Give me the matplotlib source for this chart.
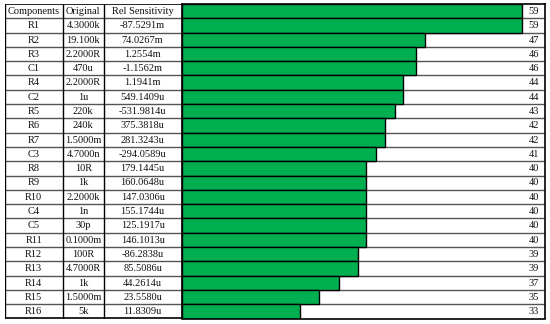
import matplotlib

matplotlib.use("Agg")
import matplotlib.pyplot as plt  # noqa: E402

components = ["R1", "R2", "R3", "C1", "R4", "C2", "R5", "R6", "R7", "C3", "R8",
              "R9", "R10", "C4", "C5", "R11", "R12", "R13", "R14", "R15", "R16"]
original = ["4.3000k", "19.100k", "2.2000R", "470u", "2.2000R", "1u", "220k", "240k",
            "1.5000m", "4.7000n", "10R", "1k", "2.2000k", "1n", "30p", "0.1000m",
            "100R", "4.7000R", "1k", "1.5000m", "5k"]
rel_sens = ["-87.5291m", "74.0267m", "1.2554m", "-1.1562m", "1.1941m", "549.1409u",
            "-531.9814u", "375.3818u", "281.3243u", "-294.0589u", "179.1445u",
            "160.0648u", "147.0306u", "155.1744u", "125.1917u", "146.1013u",
            "-86.2838u", "85.5086u", "44.2614u", "23.5580u", "11.8309u"]
headers = ["Components", "Original", "Rel Sensitivity"]

# bar column: one bar per table line (header line included)
scores = [59, 59, 47, 46, 46, 44, 44, 43, 42, 42, 41, 40, 40, 40, 40, 40, 40,
          39, 39, 37, 35, 33]
bar_pct = [93.7, 93.7, 67.1, 64.7, 64.7, 61.0, 61.0, 58.7, 56.1, 56.1, 53.6,
           50.9, 50.9, 50.9, 50.9, 50.9, 50.9, 48.7, 48.7, 43.3, 37.8, 32.7]

W, H = 550, 324
x0, x1 = 4.5, 544.5
y_top, y_bot = 4.0, 318.5
col_edges = [4.5, 63.0, 103.5, 181.7]
n_rows = len(scores)

plt.rcParams["font.family"] = ["Liberation Serif", "DejaVu Serif"]
fig = plt.figure(figsize=(W / 100, H / 100), dpi=100)

# table part
bottom = 1 - y_bot / H
height = (y_bot - y_top) / H
tab = fig.add_axes([x0 / W, bottom, (col_edges[-1] - x0) / W, height])
tab.set_xlim(col_edges[0], col_edges[-1])
tab.set_ylim(n_rows - 0.5, -0.5)
tab.axis("off")

rows = [headers] + [list(r) for r in zip(components, original, rel_sens)]
for i, row in enumerate(rows):
    for j, txt in enumerate(row):
        xc = (col_edges[j] + col_edges[j + 1]) / 2
        tab.text(xc, i + 0.02, txt, ha="center", va="center", fontsize=7.5, color="#111")
for k in range(1, n_rows):
    tab.axhline(k - 0.5, color="#555", lw=1.0)
for xe in col_edges:
    tab.axvline(xe, color="black", lw=1.0)
tab.axhline(-0.5, color="black", lw=1.2)
tab.axhline(n_rows - 0.5, color="black", lw=1.2)

# bar part
ax = fig.add_axes([col_edges[-1] / W, bottom, (x1 - col_edges[-1]) / W, height])
ax.set_xlim(0, 100)
ax.set_ylim(n_rows - 0.5, -0.5)
for k in range(1, n_rows):
    ax.axhline(k - 0.5, color="#555", lw=1.0, zorder=1)
ax.barh(range(n_rows), bar_pct, height=1.0, color="#00B050", edgecolor="black",
        lw=1.0, zorder=2)
for i, s in enumerate(scores):
    ax.text(0.985, i + 0.02, str(s), transform=ax.get_yaxis_transform(),
            ha="right", va="center", fontsize=7.5, color="#111")
ax.set_xticks([])
ax.set_yticks([])
for sp in ax.spines.values():
    sp.set_color("black")
    sp.set_linewidth(1.2)

fig.savefig("out.png", dpi=100)
